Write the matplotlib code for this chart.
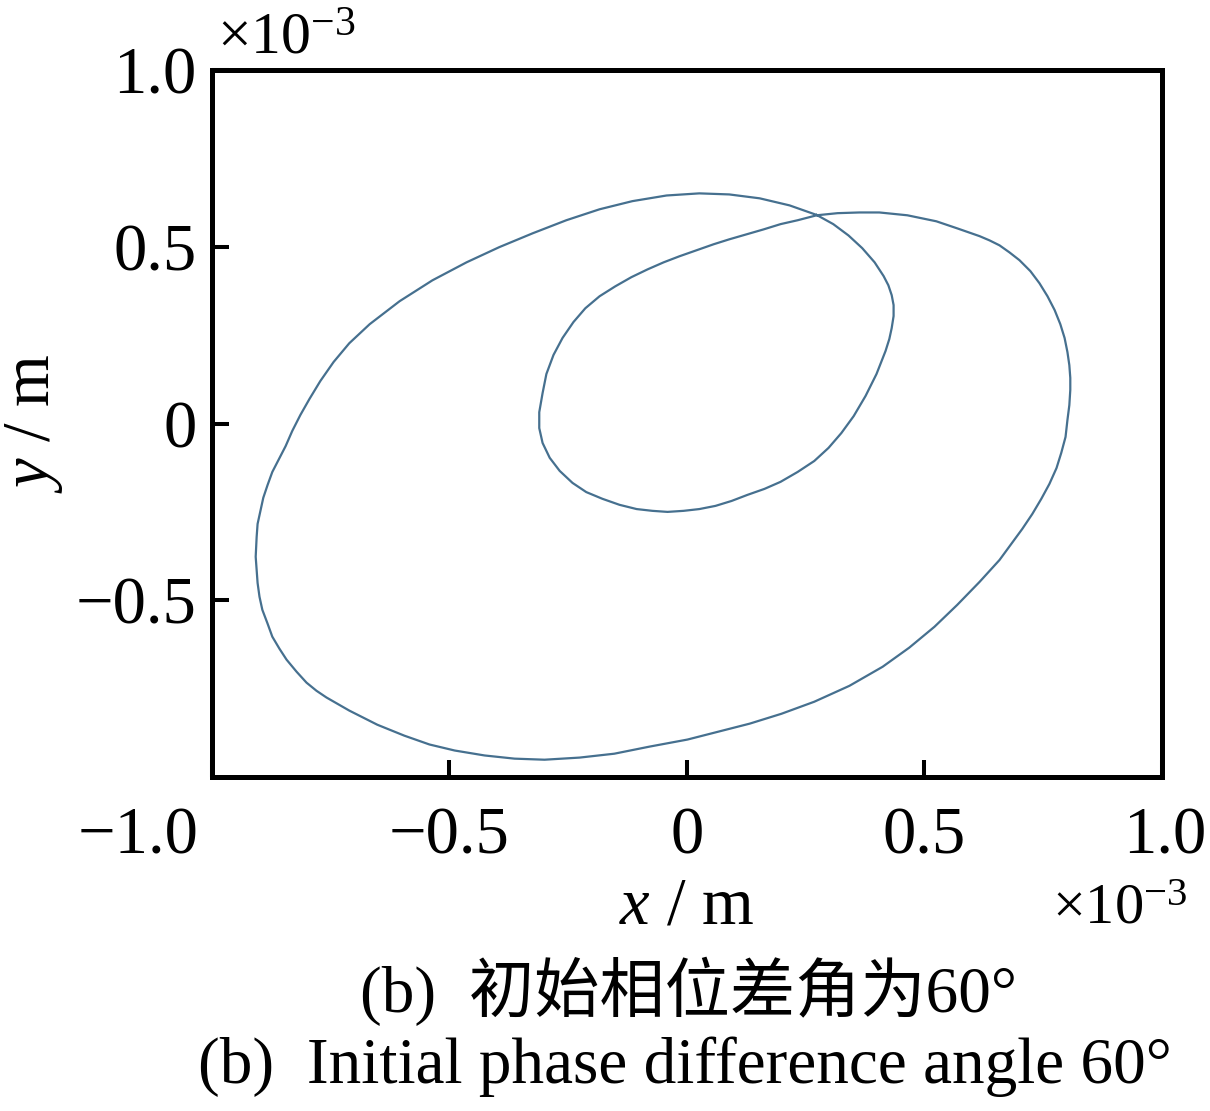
import matplotlib.pyplot as plt
from matplotlib.transforms import ScaledTranslation

plt.rcParams['font.family'] = ['Liberation Serif', 'Noto Sans CJK SC']
plt.rcParams['mathtext.fontset'] = 'custom'
plt.rcParams['mathtext.rm'] = 'Liberation Serif'
plt.rcParams['mathtext.it'] = 'Liberation Serif:italic'

# trajectory, in units of 1e-3 m
# (outer loop from the crossing point, then the inner loop)
x_traj = [0.273, 0.216, 0.153, 0.089, 0.026, -0.043, -0.115, -0.184, -0.254, -0.325,
          -0.395, -0.464, -0.536, -0.605, -0.668,
          -0.711, -0.744, -0.772, -0.795, -0.814, -0.831, -0.845, -0.860, -0.873, -0.883,
          -0.892, -0.898, -0.904, -0.906, -0.907, -0.908, -0.906, -0.904, -0.900, -0.894,
          -0.883, -0.873, -0.858, -0.843, -0.822, -0.801, -0.780, -0.759, -0.711, -0.652,
          -0.595, -0.542, -0.489, -0.426, -0.363, -0.300,
          -0.226, -0.153, -0.079, 0.001, 0.068, 0.132, 0.199, 0.268, 0.342, 0.412,
          0.468, 0.521, 0.569,
          0.616, 0.658, 0.683, 0.706, 0.727, 0.746, 0.763, 0.778, 0.788, 0.797,
          0.801, 0.805, 0.807, 0.807, 0.805, 0.801, 0.795, 0.786, 0.774, 0.759,
          0.742, 0.723, 0.700, 0.679, 0.658, 0.637, 0.616, 0.569, 0.525, 0.464,
          0.405, 0.363, 0.317, 0.273,
          0.233, 0.197, 0.161, 0.125, 0.089, 0.056, 0.020, -0.016, -0.049, -0.083,
          -0.117, -0.151, -0.184, -0.214, -0.239, -0.262, -0.281, -0.296, -0.304, -0.311,
          -0.311, -0.304, -0.289, -0.268, -0.241, -0.212, -0.178, -0.142, -0.106, -0.073,
          -0.041, -0.007, 0.026, 0.060, 0.094, 0.127, 0.163, 0.197, 0.233, 0.268,
          0.298, 0.325, 0.351, 0.376, 0.399, 0.418, 0.426, 0.431, 0.435, 0.435,
          0.431, 0.424, 0.414, 0.395, 0.369, 0.340, 0.308, 0.273]
y_traj = [0.590, 0.617, 0.637, 0.648, 0.651, 0.645, 0.629, 0.606, 0.575, 0.538,
          0.499, 0.456, 0.405, 0.346, 0.281,
          0.227, 0.174, 0.120, 0.069, 0.024, -0.021, -0.064, -0.103, -0.137, -0.174,
          -0.210, -0.247, -0.284, -0.321, -0.348, -0.377, -0.414, -0.451, -0.490, -0.527,
          -0.566, -0.603, -0.637, -0.668, -0.702, -0.733, -0.756, -0.775, -0.812, -0.852,
          -0.883, -0.908, -0.925, -0.939, -0.948, -0.951,
          -0.945, -0.934, -0.914, -0.894, -0.871, -0.849, -0.821, -0.787, -0.742, -0.688,
          -0.634, -0.575, -0.513,
          -0.448, -0.386, -0.340, -0.298, -0.256, -0.213, -0.171, -0.126, -0.083, -0.038,
          0.010, 0.052, 0.095, 0.129, 0.165, 0.202, 0.242, 0.281, 0.321, 0.360,
          0.397, 0.431, 0.462, 0.484, 0.504, 0.518, 0.530, 0.552, 0.572, 0.589,
          0.597, 0.597, 0.595, 0.589,
          0.575, 0.564, 0.549, 0.535, 0.521, 0.507, 0.490, 0.473, 0.456, 0.436,
          0.414, 0.388, 0.360, 0.326, 0.287, 0.242, 0.194, 0.140, 0.086, 0.032,
          -0.013, -0.055, -0.097, -0.134, -0.168, -0.194, -0.213, -0.230, -0.242, -0.247,
          -0.250, -0.247, -0.242, -0.233, -0.219, -0.202, -0.185, -0.165, -0.137, -0.106,
          -0.069, -0.027, 0.021, 0.078, 0.140, 0.205, 0.239, 0.270, 0.304, 0.335,
          0.363, 0.391, 0.417, 0.456, 0.496, 0.532, 0.564, 0.590]

x_ticks = [-1.0, -0.5, 0, 0.5, 1.0]
x_tick_labels = ['\u22121.0', '\u22120.5', '0', '0.5', '1.0']
y_ticks = [-0.5, 0, 0.5, 1.0]
y_tick_labels = ['\u22120.5', '0', '0.5', '1.0']

caption_cn = '(b)  初始相位差角为60°'
caption_en = '(b)  Initial phase difference angle 60°'

fig = plt.figure(figsize=(12.1, 11.11), dpi=100)
ax = fig.add_axes([0.1752, 0.3006, 0.7851, 0.6364])

ax.plot(x_traj, y_traj, color='#46708f', lw=1.6, solid_joinstyle='round')

ax.set_xlim(-1, 1)
ax.set_ylim(-1, 1)
ax.set_xticks(x_ticks)
ax.set_xticklabels(x_tick_labels)
ax.set_yticks(y_ticks)
ax.set_yticklabels(y_tick_labels)

ax.tick_params(direction='in', length=12, width=2.9, labelsize=48,
               top=False, right=False)
ax.tick_params(axis='x', pad=21)
ax.tick_params(axis='y', pad=11)
for s in ax.spines.values():
    s.set_linewidth(3.6)

ax.set_xlabel(r'$x$ / m', fontsize=48, labelpad=7)
ax.set_ylabel(r'$y$ / m', fontsize=48, labelpad=8)

# multiplier texts
ax.text(0.005, 1.005, r'$\times10^{-3}$', transform=ax.transAxes, fontsize=43,
        ha='left', va='bottom')
ax.text(1.027, -0.15, r'$\times10^{-3}$', transform=ax.transAxes, fontsize=42,
        ha='right', va='top')

# the outer tick labels sit a little off their ticks in the original
xl = ax.get_xticklabels()
xl[0].set_transform(xl[0].get_transform() + ScaledTranslation(-0.74, 0, fig.dpi_scale_trans))
xl[-1].set_transform(xl[-1].get_transform() + ScaledTranslation(0.03, 0, fig.dpi_scale_trans))

fig.text(0.569, 0.108, caption_cn, fontsize=47, ha='center', va='center')
fig.text(0.566, 0.040, caption_en, fontsize=47, ha='center', va='center')

fig.savefig('out.png', dpi=100)
